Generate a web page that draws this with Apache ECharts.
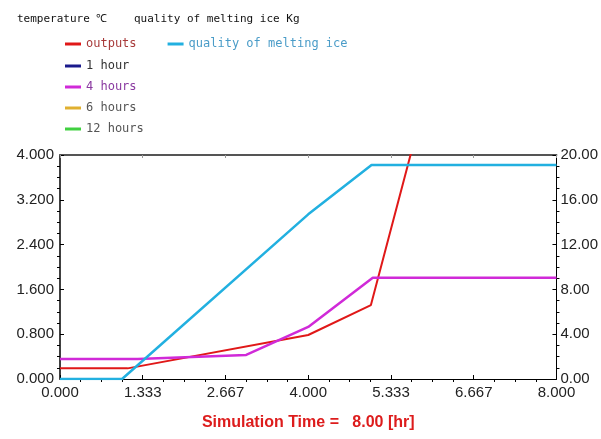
<!DOCTYPE html>
<html lang="en">
<head>
    <meta charset="UTF-8">
    <title>melting ice</title>
    <style>
      body { margin: 0; background: #fff; }
    </style>
</head>
<body>
    <div id="main" style="width: 601px; height: 439px;"></div>
    <script src="https://cdn.jsdelivr.net/npm/echarts@6/dist/echarts.min.js"></script>
    <script>
      // time points (hr) and values
      var outputsTime = [0, 1.09, 4.0, 5.01, 5.66];
      var outputsVal = [0.19, 0.19, 0.786, 1.32, 4.05];
      var fourHoursTime = [0, 1.25, 3.0, 4.0, 5.04, 8.0];
      var fourHoursVal = [0.357, 0.357, 0.43, 0.93, 1.81, 1.81];
      var iceTime = [0, 1.0, 4.0, 5.02, 8.0];
      var iceVal = [0, 0, 14.7, 19.1, 19.1];

      var xTicks = ['0.000', '1.333', '2.667', '4.000', '5.333', '6.667', '8.000'];
      var leftTicks = ['0.000', '0.800', '1.600', '2.400', '3.200', '4.000'];
      var rightTicks = ['0.00', '4.00', '8.00', '12.00', '16.00', '20.00'];

      function pairs(xs, ys) {
        return xs.map(function (x, i) { return [x, ys[i]]; });
      }

      var chartDom = document.getElementById('main');
      var myChart = echarts.init(chartDom);
      var option;

      var monoFont = 'DejaVu Sans Mono';
      var axisFont = { fontFamily: 'Liberation Sans', fontSize: 15, color: '#222' };

      option = {
        backgroundColor: '#fff',
        animation: false,
        title: {
          text: 'temperature ℃    quality of melting ice Kg',
          left: 12,
          top: 9,
          textStyle: { fontFamily: monoFont, fontSize: 11, fontWeight: 'normal', color: '#111' }
        },
        legend: [
          {
            left: 60,
            top: 33,
            orient: 'horizontal',
            icon: 'rect',
            itemWidth: 16,
            itemHeight: 3,
            itemGap: 31,
            textStyle: { fontFamily: monoFont, fontSize: 12 },
            data: [
              { name: 'outputs', textStyle: { color: '#a83a3a' } },
              { name: 'quality of melting ice', textStyle: { color: '#4a9cc8' } }
            ]
          },
          {
            left: 60,
            top: 55,
            orient: 'vertical',
            icon: 'rect',
            itemWidth: 16,
            itemHeight: 3,
            itemGap: 9,
            textStyle: { fontFamily: monoFont, fontSize: 12 },
            data: [
              { name: '1 hour', textStyle: { color: '#333' } },
              { name: '4 hours', textStyle: { color: '#8a3aa0' } },
              { name: '6 hours', textStyle: { color: '#555' } },
              { name: '12 hours', textStyle: { color: '#555' } }
            ]
          }
        ],
        grid: { left: 60, right: 41, top: 155, bottom: 60 },
        xAxis: [
          {
            type: 'value',
            min: 0,
            max: 8,
            interval: 8 / 6,
            axisLine: { onZero: false, lineStyle: { color: '#000', width: 1 } },
            axisTick: { inside: true, length: 4, lineStyle: { color: '#000' } },
            minorTick: { show: true, splitNumber: 4, length: -3, lineStyle: { color: '#000' } },
            splitLine: { show: false },
            axisLabel: {
              fontFamily: axisFont.fontFamily, fontSize: axisFont.fontSize, color: axisFont.color,
              margin: 6,
              formatter: function (v, i) { return xTicks[i]; }
            },
            name: 'Simulation Time =   8.00 [hr]',
            nameLocation: 'middle',
            nameGap: 36,
            nameTextStyle: { fontFamily: 'Liberation Sans', fontSize: 16, fontWeight: 'bold', color: '#dd1c1c' }
          },
          {
            type: 'value',
            position: 'top',
            min: 0,
            max: 8,
            interval: 8 / 6,
            axisLine: { onZero: false, lineStyle: { color: '#555', width: 2 } },
            axisTick: { inside: true, length: 3, lineStyle: { color: '#999' } },
            axisLabel: { show: false },
            splitLine: { show: false }
          }
        ],
        yAxis: [
          {
            type: 'value',
            min: 0,
            max: 4,
            interval: 0.8,
            axisLine: { show: true, onZero: false, lineStyle: { color: '#000', width: 1.5 } },
            axisTick: { inside: true, length: 4, lineStyle: { color: '#000' } },
            minorTick: { show: true, splitNumber: 4, length: -3, lineStyle: { color: '#000' } },
            splitLine: { show: false },
            axisLabel: {
              fontFamily: axisFont.fontFamily, fontSize: axisFont.fontSize, color: axisFont.color,
              margin: 6,
              formatter: function (v, i) { return leftTicks[i]; }
            }
          },
          {
            type: 'value',
            position: 'right',
            min: 0,
            max: 20,
            interval: 4,
            axisLine: { show: true, onZero: false, lineStyle: { color: '#000', width: 1 } },
            axisTick: { inside: true, length: 4, lineStyle: { color: '#000' } },
            minorTick: { show: true, splitNumber: 4, length: -3, lineStyle: { color: '#000' } },
            splitLine: { show: false },
            axisLabel: {
              fontFamily: axisFont.fontFamily, fontSize: axisFont.fontSize, color: axisFont.color,
              margin: 4,
              formatter: function (v, i) { return rightTicks[i]; }
            }
          }
        ],
        series: [
          {
            name: 'outputs',
            type: 'line',
            yAxisIndex: 0,
            symbol: 'none',
            color: '#e01818',
            lineStyle: { width: 2 },
            data: pairs(outputsTime, outputsVal)
          },
          {
            name: '1 hour',
            type: 'line',
            symbol: 'none',
            color: '#1a1a8c',
            data: []
          },
          {
            name: '4 hours',
            type: 'line',
            yAxisIndex: 0,
            symbol: 'none',
            color: '#d02ad8',
            lineStyle: { width: 2.5 },
            data: pairs(fourHoursTime, fourHoursVal)
          },
          {
            name: '6 hours',
            type: 'line',
            symbol: 'none',
            color: '#e0b030',
            data: []
          },
          {
            name: '12 hours',
            type: 'line',
            symbol: 'none',
            color: '#40d040',
            data: []
          },
          {
            name: 'quality of melting ice',
            type: 'line',
            yAxisIndex: 1,
            symbol: 'none',
            color: '#22b0e0',
            lineStyle: { width: 2.5 },
            data: pairs(iceTime, iceVal)
          }
        ]
      };

      option && myChart.setOption(option);
    </script>
</body>
</html>
